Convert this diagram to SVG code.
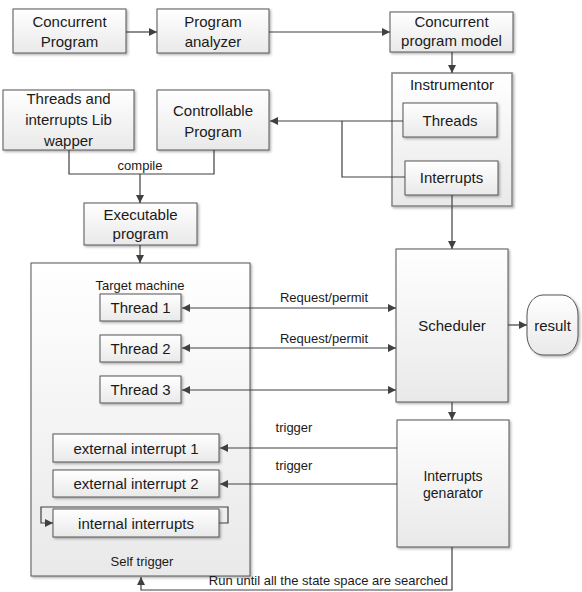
<svg xmlns="http://www.w3.org/2000/svg" width="582" height="592" viewBox="0 0 582 592">
<style>
  .box { fill: url(#g); stroke: #555; stroke-width: 1; filter: url(#sh); }
  .inst { fill: url(#g); stroke: #8a8a8a; stroke-width: 1.6; filter: url(#sh); }
  text { font-family: "Liberation Sans", Arial, sans-serif; fill: #1a1a1a; text-anchor: middle; }
  .t { font-size: 15px; }
  .s { font-size: 13px; }
  .c { fill: none; stroke: #404040; stroke-width: 1.2; }
  .a { marker-end: url(#ah); }
  .b { marker-start: url(#ah); marker-end: url(#ah); }
</style>
<defs>
  <linearGradient id="g" x1="0" y1="0" x2="0" y2="1">
    <stop offset="0" stop-color="#ffffff"/>
    <stop offset="1" stop-color="#e9e9e9"/>
  </linearGradient>
  <filter id="sh" x="-10%" y="-10%" width="130%" height="130%">
    <feDropShadow dx="1.5" dy="1.5" stdDeviation="0.8" flood-color="#000" flood-opacity="0.3"/>
  </filter>
  <marker id="ah" viewBox="0 0 10 10" refX="10" refY="5" markerWidth="9" markerHeight="8" markerUnits="userSpaceOnUse" orient="auto-start-reverse">
    <path d="M0,0 L10,5 L0,10 z" fill="#404040"/>
  </marker>
</defs>
<rect width="582" height="592" fill="#fff"/>

<g id="concurrent-program">
  <rect class="box" x="13" y="9" width="113" height="44"/>
  <text class="t" x="69.5" y="27">Concurrent</text>
  <text class="t" x="69.5" y="47">Program</text>
</g>
<g id="program-analyzer">
  <rect class="box" x="157" y="9" width="112" height="44"/>
  <text class="t" x="213" y="27">Program</text>
  <text class="t" x="213" y="47">analyzer</text>
</g>
<g id="concurrent-program-model">
  <rect class="box" x="390" y="12" width="123" height="40"/>
  <text class="t" x="451.5" y="27">Concurrent</text>
  <text class="t" x="451.5" y="46">program model</text>
</g>
<g id="instrumentor">
  <rect class="inst" x="392" y="73" width="120" height="133"/>
  <text class="t" x="452" y="90">Instrumentor</text>
</g>
<g id="threads">
  <rect class="box" x="403" y="103" width="94" height="34"/>
  <text class="t" x="450" y="126">Threads</text>
</g>
<g id="interrupts">
  <rect class="box" x="405" y="161" width="93" height="34"/>
  <text class="t" x="451.5" y="183">Interrupts</text>
</g>
<g id="lib-wrapper">
  <rect class="box" x="3" y="90" width="131" height="60"/>
  <text class="t" x="68.5" y="104">Threads and</text>
  <text class="t" x="68.5" y="125">interrupts Lib</text>
  <text class="t" x="68.5" y="146">wapper</text>
</g>
<g id="controllable-program">
  <rect class="box" x="157" y="90" width="112" height="60"/>
  <text class="t" x="213" y="116">Controllable</text>
  <text class="t" x="213" y="137">Program</text>
</g>
<g id="executable-program">
  <rect class="box" x="84" y="203" width="113" height="42"/>
  <text class="t" x="140.5" y="220">Executable</text>
  <text class="t" x="140.5" y="239">program</text>
</g>
<g id="target-machine">
  <rect class="box" x="31" y="263" width="219" height="313"/>
  <text class="s" x="140" y="290">Target machine</text>
  <text class="s" x="142" y="566">Self trigger</text>
</g>
<g id="thread-1">
  <rect class="box" x="100" y="294" width="81" height="27"/>
  <text class="t" x="140.5" y="313">Thread 1</text>
</g>
<g id="thread-2">
  <rect class="box" x="100" y="335" width="81" height="27"/>
  <text class="t" x="140.5" y="354">Thread 2</text>
</g>
<g id="thread-3">
  <rect class="box" x="100" y="376" width="81" height="27"/>
  <text class="t" x="140.5" y="395">Thread 3</text>
</g>
<g id="external-interrupt-1">
  <rect class="box" x="53" y="434" width="166" height="28"/>
  <text class="t" x="136" y="454">external interrupt 1</text>
</g>
<g id="external-interrupt-2">
  <rect class="box" x="53" y="470" width="166" height="27"/>
  <text class="t" x="136" y="489">external interrupt 2</text>
</g>
<g id="internal-interrupts">
  <rect class="box" x="53" y="509" width="166" height="28"/>
  <text class="t" x="136" y="529">internal interrupts</text>
</g>
<g id="scheduler">
  <rect class="box" x="396" y="249" width="112" height="153"/>
  <text class="t" x="452" y="331">Scheduler</text>
</g>
<g id="result">
  <rect class="box" x="527" y="295" width="51" height="60" rx="16" ry="20"/>
  <text class="t" x="552.5" y="331">result</text>
</g>
<g id="interrupts-generator">
  <rect class="box" x="397" y="420" width="112" height="127"/>
  <text class="s" x="453" y="481" style="font-size:14px">Interrupts</text>
  <text class="s" x="453" y="498" style="font-size:14px">genarator</text>
</g>

<g id="connectors">
  <path class="c a" d="M126,32 H157"/>
  <path class="c a" d="M269,32 H390"/>
  <path class="c a" d="M452,52 V73"/>
  <path class="c a" d="M403,121 H270"/>
  <path class="c" d="M405,177 H342 V121"/>
  <path class="c" d="M69,150 V174 H214 V150"/>
  <path class="c a" d="M140,174 V203"/>
  <text class="s" x="140" y="170">compile</text>
  <path class="c a" d="M140,245 V263"/>
  <path class="c a" d="M452,195 V249"/>
  <path class="c b" d="M182,308 H396"/>
  <path class="c b" d="M182,348 H396"/>
  <path class="c b" d="M182,390 H396"/>
  <text class="s" x="324" y="302">Request/permit</text>
  <text class="s" x="324" y="343">Request/permit</text>
  <path class="c a" d="M508,325 H527"/>
  <path class="c a" d="M452,402 V420"/>
  <path class="c a" d="M397,448 H220"/>
  <path class="c a" d="M397,484 H220"/>
  <text class="s" x="294" y="432">trigger</text>
  <text class="s" x="294" y="470">trigger</text>
  <path class="c a" d="M219,523 H228 V507 H41 V523 H53"/>
  <path class="c a" d="M452,547 V590 H141 V577"/>
  <text class="s" x="448" y="585" style="text-anchor:end">Run until all the state space are searched</text>
</g>
</svg>
